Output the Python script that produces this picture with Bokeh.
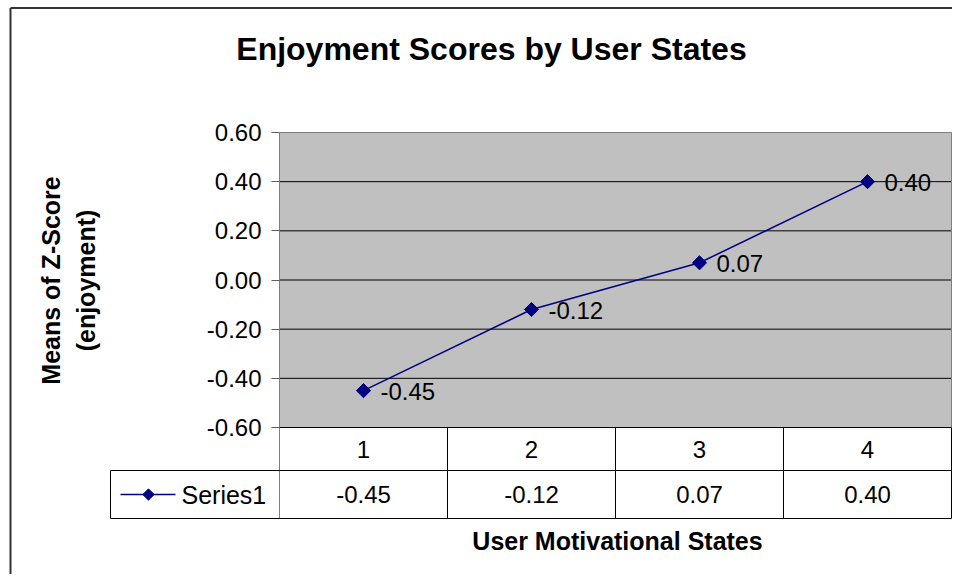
import math
from bokeh.plotting import figure
from bokeh.models import FixedTicker, PrintfTickFormatter, Range1d, ColumnDataSource
from bokeh.core.properties import value
from bokeh.embed import file_html
from bokeh.resources import INLINE

# ---- data ----
title_text = "Enjoyment Scores by User States"
x_title = "User Motivational States"
y_title_lines = ["Means of Z-Score", "(enjoyment)"]
series_name = "Series1"
categories = ["1", "2", "3", "4"]
values = [-0.45, -0.12, 0.07, 0.40]
y_ticks = [-0.6, -0.4, -0.2, 0.0, 0.2, 0.4, 0.6]

FONT = "Liberation Sans"
NAVY = "#000080"
W, H = 952, 574

n = len(categories)
xs = list(range(1, n + 1))
labels = [f"{v:.2f}" for v in values]
src = ColumnDataSource(dict(x=xs, y=values, label=labels, cat=categories))

# ---- layout geometry (picture pixels -> data units) ----
PX_X = 168.0            # pixels per category
PX_Y = 295.0 / 1.2      # pixels per score unit
LEFT_PX, TOP_PX = 279.0, 132.0   # plot-area top-left in the picture
x0 = 0.5 - LEFT_PX / PX_X
x1 = x0 + W / PX_X
ymax, ymin = y_ticks[-1], y_ticks[0]
y1 = ymax + TOP_PX / PX_Y
y0 = y1 - H / PX_Y

def xpx(px):
    return x0 + px / PX_X

def ypx(py):
    return ymax - (py - TOP_PX) / PX_Y

row_mid = ypx(470)
row_bot = ypx(518)
xl, xr = 0.5, n + 0.5
x_leg = xpx(110)

p = figure(width=W, height=H, x_range=Range1d(x0, x1), y_range=Range1d(y0, y1),
           x_axis_type=None, output_backend="svg", toolbar_location=None,
           min_border=0, min_border_left=0, min_border_right=0,
           min_border_top=0, min_border_bottom=0)
p.outline_line_color = None
p.background_fill_color = "white"
p.border_fill_color = "white"
p.ygrid.visible = False

# plot area
p.quad(left=[xl], right=[xr], bottom=[ymin], top=[ymax],
       fill_color="#C0C0C0", line_color=None)
grid_ticks = y_ticks[1:-1]
p.segment(x0=[xl] * len(grid_ticks), y0=grid_ticks, x1=[xr] * len(grid_ticks),
          y1=grid_ticks, line_color="black", line_width=1)
# plot-area border (top, right) in gray
p.segment(x0=[xl, xr], y0=[ymax, ymax], x1=[xr, xr], y1=[ymax, ymin],
          line_color="#808080", line_width=1)
# value axis line
p.segment(x0=[xl], y0=[ymax], x1=[xl], y1=[row_bot],
          line_color="#808080", line_width=1)

ax = p.yaxis[0]
ax.fixed_location = xl
ax.ticker = FixedTicker(ticks=y_ticks)
ax.formatter = PrintfTickFormatter(format="%.2f")
ax.major_label_text_font = FONT
ax.major_label_text_font_size = "24px"
ax.major_label_text_color = "black"
ax.axis_line_color = None
ax.major_tick_line_color = "#606060"
ax.major_tick_in = 0
ax.major_tick_out = 8
ax.minor_tick_line_color = None
ax.major_label_standoff = 10

# series
p.line("x", "y", source=src, line_color=NAVY, line_width=1.5)
p.scatter("x", "y", source=src, marker="square", angle=math.pi / 4, size=10,
          fill_color=NAVY, line_color=NAVY)
p.text("x", "y", text="label", source=src, x_offset=17, y_offset=1,
       text_baseline="middle", text_align="left", text_font=value(FONT),
       text_font_size="24px", text_color="black")

# data table
bounds = [i + 0.5 for i in range(n + 1)]
p.segment(x0=[xl, x_leg, x_leg], y0=[ymin, row_mid, row_bot],
          x1=[xr] * 3, y1=[ymin, row_mid, row_bot],
          line_color="black", line_width=1)
p.segment(x0=bounds[1:] + [x_leg], y0=[row_bot] * n + [row_bot],
          x1=bounds[1:] + [x_leg], y1=[ymin] * n + [row_mid],
          line_color="black", line_width=1)
p.text("x", value((ymin + row_mid) / 2), text="cat", source=src,
       text_align="center", text_baseline="middle", text_font=value(FONT),
       text_font_size="24px", text_color="black")
p.text("x", value((row_mid + row_bot) / 2), text="label", source=src,
       text_align="center", text_baseline="middle", text_font=value(FONT),
       text_font_size="24px", text_color="black")
leg_y = (row_mid + row_bot) / 2
p.segment(x0=[xpx(120)], y0=[leg_y], x1=[xpx(175)], y1=[leg_y],
          line_color=NAVY, line_width=1.5)
p.scatter(x=[xpx(148)], y=[leg_y], marker="square", angle=math.pi / 4, size=8,
          fill_color=NAVY, line_color=NAVY)
p.text(x=[xpx(181)], y=[leg_y], text=[series_name], text_align="left",
       text_baseline="middle", text_font=value(FONT), text_font_size="25px",
       text_color="black")

# titles
p.text(x=[xpx(491)], y=[ypx(48)], text=[title_text], text_align="center",
       text_baseline="middle", text_font=value(FONT), text_font_size="32px",
       text_font_style="bold", text_color="black")
p.text(x=[xpx(617)], y=[ypx(540)], text=[x_title], text_align="center",
       text_baseline="middle", text_font=value(FONT), text_font_size="25px",
       text_font_style="bold", text_color="black")
p.text(x=[xpx(50), xpx(85)], y=[ypx(280)] * 2, text=y_title_lines,
       angle=math.pi / 2, text_align="center", text_baseline="middle",
       text_font=value(FONT), text_font_size="25px", text_font_style="bold",
       text_color="black")

# chart-area border (left, top)
p.segment(x0=[xpx(10), xpx(10)], y0=[y0, ypx(7.5)], x1=[xpx(10), x1],
          y1=[ypx(7.5), ypx(7.5)], line_color="#333333", line_width=2)

open("out.html", "w").write(file_html(p, INLINE))
